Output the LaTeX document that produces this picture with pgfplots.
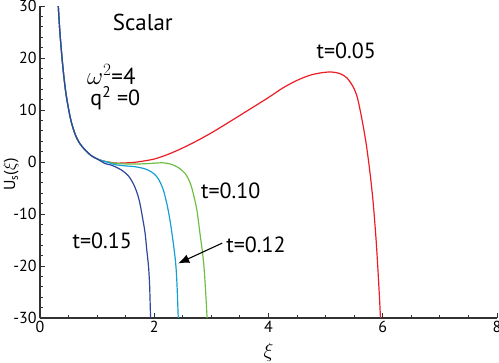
\documentclass[border=0pt]{standalone}
\usepackage{fontspec}
\setmainfont{PT Sans}
\usepackage{pgfplots}
\pgfplotsset{compat=1.18}
\usetikzlibrary{arrows.meta}

\definecolor{cRed}{RGB}{237,28,36}
\definecolor{cGreen}{RGB}{110,190,68}
\definecolor{cCyan}{RGB}{20,160,210}
\definecolor{cBlue}{RGB}{46,70,155}
\definecolor{axgray}{RGB}{50,50,50}

\begin{document}
\begin{tikzpicture}
\begin{axis}[
    name=ax,
    scale only axis,
    width=457bp, height=312bp,
    xmin=0, xmax=8, ymin=-30, ymax=30,
    axis x line=bottom, axis y line=left,
    axis line style={-, line width=1.2pt, axgray},
    tick align=inside,
    major tick length=5bp, minor tick length=3bp,
    every tick/.style={axgray, line width=0.9pt},
    xtick={0,2,4,6,8}, minor x tick num=3,
    ytick={-30,-20,-10,0,10,20,30}, minor y tick num=4,
    yticklabels={-30,-20,-10,0,10,20,30},
    xticklabels={0,2,4,6,8},
    ticklabel style={font=\fontsize{16bp}{18bp}\selectfont},
    xlabel={$\xi$},
    xlabel style={at={(rel axis cs:0.5,0)}, anchor=center, yshift=-34bp, font=\fontsize{19bp}{21bp}\selectfont},
    ylabel={U\textsubscript{s}($\xi$)},
    ylabel style={at={(rel axis cs:0,0.46)}, anchor=center, yshift=29bp, font=\fontsize{16bp}{18bp}\selectfont},
    clip=true,
]
% t=0.05
\addplot[cRed, line width=1.2pt, smooth, tension=0.5] coordinates {
(0.32,30) (0.35,24.7) (0.40,18.3) (0.45,13.5) (0.50,10.2) (0.55,7.6) (0.62,5.2)
(0.70,3.5) (0.80,2.2) (0.90,1.2) (1.0,0.6) (1.1,0.2)
(1.2,0) (1.31,-0.2) (1.45,-0.2) (1.66,-0.05) (1.85,0.25) (2.01,0.6) (2.2,1.3)
(2.42,2.3) (2.7,3.8) (3.0,5.6) (3.3,7.6) (3.68,10.2) (4.0,12.4) (4.26,14.3)
(4.5,15.7) (4.73,16.7) (4.95,17.2) (5.11,17.3) (5.25,17.0) (5.37,16.2)
(5.48,14.5) (5.55,12.6) (5.60,10.2) (5.66,6.8) (5.71,3.5) (5.75,0.3)
(5.79,-3.3) (5.83,-7.5) (5.86,-11.5) (5.89,-16) (5.92,-21.5) (5.945,-26.5) (5.96,-30)
};
% t=0.10
\addplot[cGreen, line width=1.2pt, smooth, tension=0.5] coordinates {
(0.32,30) (0.35,24.7) (0.40,18.3) (0.45,13.5) (0.50,10.2) (0.55,7.6) (0.62,5.2)
(0.70,3.5) (0.80,2.2) (0.90,1.2) (1.0,0.6) (1.1,0.2)
(1.2,0) (1.31,-0.25) (1.45,-0.35) (1.66,-0.4) (1.9,-0.3) (2.13,-0.15)
(2.25,-0.3) (2.36,-0.7) (2.45,-1.3) (2.54,-2.2) (2.60,-3.3) (2.65,-4.7)
(2.71,-7.3) (2.75,-9.5) (2.80,-13.7) (2.84,-17) (2.87,-20.1) (2.90,-25) (2.925,-30)
};
% t=0.12
\addplot[cCyan, line width=1.2pt, smooth, tension=0.5] coordinates {
(0.32,30) (0.35,24.7) (0.40,18.3) (0.45,13.5) (0.50,10.2) (0.55,7.6) (0.62,5.2)
(0.70,3.5) (0.80,2.2) (0.90,1.2) (1.0,0.6) (1.1,0.2)
(1.2,-0.1) (1.31,-0.5) (1.5,-0.75) (1.66,-0.9) (1.80,-1.2) (1.90,-1.6)
(2.0,-2.3) (2.08,-3.4) (2.16,-5.4) (2.23,-8.5) (2.28,-11.5) (2.31,-13.7)
(2.35,-17) (2.38,-20.1) (2.40,-24) (2.42,-30)
};
% t=0.15
\addplot[cBlue, line width=1.2pt, smooth, tension=0.5] coordinates {
(0.32,30) (0.35,24.7) (0.40,18.3) (0.45,13.5) (0.50,10.2) (0.55,7.6) (0.62,5.2)
(0.70,3.5) (0.80,2.2) (0.90,1.2) (1.0,0.6) (1.14,-0.3)
(1.25,-0.6) (1.37,-1.2) (1.46,-1.8) (1.55,-2.7) (1.61,-3.7) (1.66,-4.8)
(1.71,-6.3) (1.75,-8) (1.80,-11) (1.84,-13.7) (1.87,-17) (1.90,-20.1)
(1.92,-24) (1.935,-30)
};
\node[inner sep=0pt, font=\fontsize{23bp}{25bp}\selectfont] at (axis cs:1.80,26.9) {Scalar};
\node[inner sep=0pt, anchor=west, font=\fontsize{23bp}{25bp}\selectfont] at (axis cs:0.82,16.8) {$\omega^{2}$=4};
\node[inner sep=0pt, anchor=west, font=\fontsize{22bp}{24bp}\selectfont] at (axis cs:0.88,12.3) {q\textsuperscript{2} =0};
\node[inner sep=0pt, font=\fontsize{22bp}{24bp}\selectfont] at (axis cs:5.36,21.3) {t=0.05};
\node[inner sep=0pt, font=\fontsize{22bp}{24bp}\selectfont] at (axis cs:3.34,-5.6) {t=0.10};
\node[inner sep=0pt, font=\fontsize{22bp}{24bp}\selectfont] at (axis cs:1.09,-15.2) {t=0.15};
\node[inner sep=0pt, anchor=west, font=\fontsize{22bp}{24bp}\selectfont] at (axis cs:3.26,-15.9) {t=0.12};
\draw[-{Latex[length=11bp,width=9bp]}, line width=1.1pt] (axis cs:3.19,-15.6) -- (axis cs:2.42,-19.5);
\end{axis}
\pgfresetboundingbox
\path[use as bounding box] ([shift={(-40bp,-45bp)}]ax.south west) rectangle ([shift={(459bp,318bp)}]ax.south west);
\end{tikzpicture}
\end{document}
